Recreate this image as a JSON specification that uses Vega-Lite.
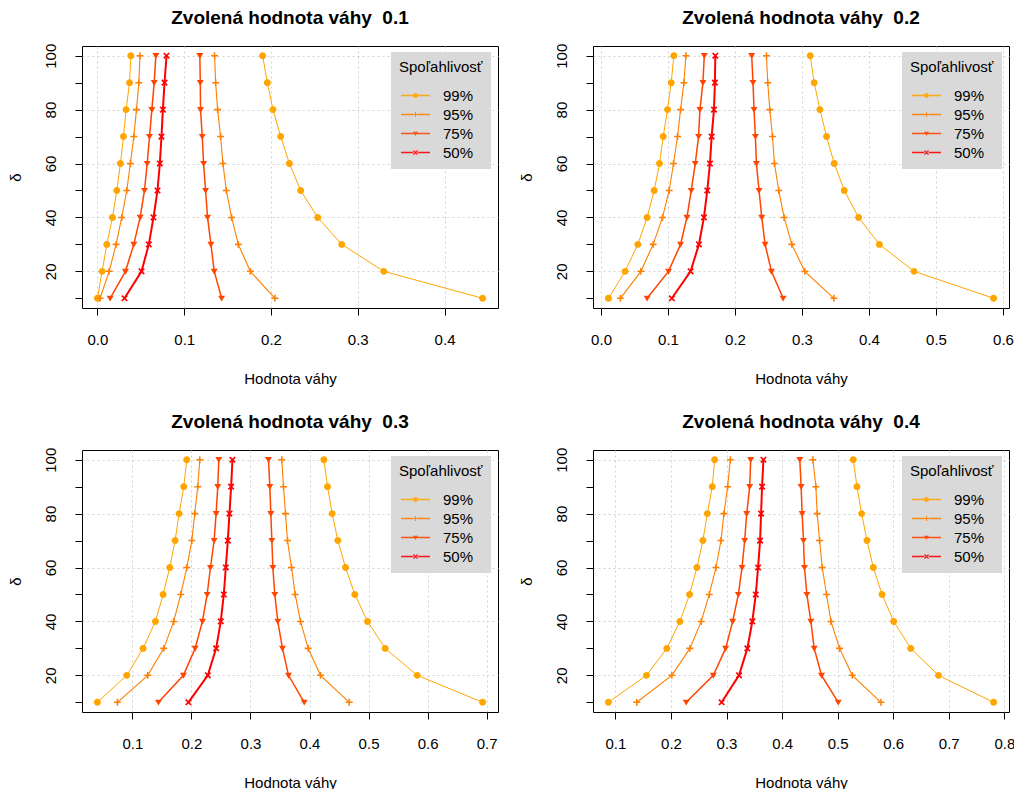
{
"$schema": "https://vega.github.io/schema/vega-lite/v6.json",
"padding": {"left": 7, "top": 8, "right": 5, "bottom": 5},
"background": "white",
"config": {
  "font": "Liberation Sans",
  "view": {"stroke": "black", "strokeWidth": 1},
  "axis": {"domain": false, "tickColor": "black", "tickSize": 7, "tickWidth": 1, "labelFont": "Liberation Sans", "labelFontSize": 15, "labelColor": "black", "titleFont": "Liberation Sans", "titleFontSize": 15, "titleFontWeight": "normal", "titleColor": "black", "gridColor": "#D3D3D3", "gridDash": [2, 3], "gridWidth": 1, "labelFlush": false, "labelOverlap": false, "grid": true},
  "axisX": {"labelPadding": 17, "titlePadding": 24},
  "axisY": {"labelAngle": -90, "labelAlign": "center", "labelBaseline": "bottom", "labelPadding": 17, "titlePadding": 20},
  "title": {"font": "Liberation Sans", "fontSize": 19, "fontWeight": "bold", "color": "black", "offset": 15, "anchor": "middle"}
},
"datasets": {"pts": [
{"p":1,"l":"99%","s":"lo","d":100,"x":0.0385},{"p":1,"l":"99%","s":"lo","d":90,"x":0.037},{"p":1,"l":"99%","s":"lo","d":80,"x":0.033},{"p":1,"l":"99%","s":"lo","d":70,"x":0.030},{"p":1,"l":"99%","s":"lo","d":60,"x":0.0265},{"p":1,"l":"99%","s":"lo","d":50,"x":0.0223},{"p":1,"l":"99%","s":"lo","d":40,"x":0.0173},{"p":1,"l":"99%","s":"lo","d":30,"x":0.0108},{"p":1,"l":"99%","s":"lo","d":20,"x":0.0054},{"p":1,"l":"99%","s":"lo","d":10,"x":0.0},
{"p":1,"l":"95%","s":"lo","d":100,"x":0.049},{"p":1,"l":"95%","s":"lo","d":90,"x":0.0477},{"p":1,"l":"95%","s":"lo","d":80,"x":0.045},{"p":1,"l":"95%","s":"lo","d":70,"x":0.0419},{"p":1,"l":"95%","s":"lo","d":60,"x":0.038},{"p":1,"l":"95%","s":"lo","d":50,"x":0.0338},{"p":1,"l":"95%","s":"lo","d":40,"x":0.028},{"p":1,"l":"95%","s":"lo","d":30,"x":0.0215},{"p":1,"l":"95%","s":"lo","d":20,"x":0.0135},{"p":1,"l":"95%","s":"lo","d":10,"x":0.003},
{"p":1,"l":"75%","s":"lo","d":100,"x":0.0673},{"p":1,"l":"75%","s":"lo","d":90,"x":0.0654},{"p":1,"l":"75%","s":"lo","d":80,"x":0.0627},{"p":1,"l":"75%","s":"lo","d":70,"x":0.06},{"p":1,"l":"75%","s":"lo","d":60,"x":0.0573},{"p":1,"l":"75%","s":"lo","d":50,"x":0.0542},{"p":1,"l":"75%","s":"lo","d":40,"x":0.0492},{"p":1,"l":"75%","s":"lo","d":30,"x":0.0419},{"p":1,"l":"75%","s":"lo","d":20,"x":0.0323},{"p":1,"l":"75%","s":"lo","d":10,"x":0.0146},
{"p":1,"l":"50%","s":"lo","d":100,"x":0.0796},{"p":1,"l":"50%","s":"lo","d":90,"x":0.0773},{"p":1,"l":"50%","s":"lo","d":80,"x":0.0754},{"p":1,"l":"50%","s":"lo","d":70,"x":0.0738},{"p":1,"l":"50%","s":"lo","d":60,"x":0.0719},{"p":1,"l":"50%","s":"lo","d":50,"x":0.0692},{"p":1,"l":"50%","s":"lo","d":40,"x":0.0646},{"p":1,"l":"50%","s":"lo","d":30,"x":0.0592},{"p":1,"l":"50%","s":"lo","d":20,"x":0.0508},{"p":1,"l":"50%","s":"lo","d":10,"x":0.0312},
{"p":1,"l":"75%","s":"hi","d":100,"x":0.118},{"p":1,"l":"75%","s":"hi","d":90,"x":0.1185},{"p":1,"l":"75%","s":"hi","d":80,"x":0.1188},{"p":1,"l":"75%","s":"hi","d":70,"x":0.1208},{"p":1,"l":"75%","s":"hi","d":60,"x":0.1223},{"p":1,"l":"75%","s":"hi","d":50,"x":0.1246},{"p":1,"l":"75%","s":"hi","d":40,"x":0.1269},{"p":1,"l":"75%","s":"hi","d":30,"x":0.1308},{"p":1,"l":"75%","s":"hi","d":20,"x":0.1346},{"p":1,"l":"75%","s":"hi","d":10,"x":0.1431},
{"p":1,"l":"95%","s":"hi","d":100,"x":0.135},{"p":1,"l":"95%","s":"hi","d":90,"x":0.1362},{"p":1,"l":"95%","s":"hi","d":80,"x":0.1385},{"p":1,"l":"95%","s":"hi","d":70,"x":0.1419},{"p":1,"l":"95%","s":"hi","d":60,"x":0.1446},{"p":1,"l":"95%","s":"hi","d":50,"x":0.1485},{"p":1,"l":"95%","s":"hi","d":40,"x":0.1546},{"p":1,"l":"95%","s":"hi","d":30,"x":0.1623},{"p":1,"l":"95%","s":"hi","d":20,"x":0.1762},{"p":1,"l":"95%","s":"hi","d":10,"x":0.2046},
{"p":1,"l":"99%","s":"hi","d":100,"x":0.1904},{"p":1,"l":"99%","s":"hi","d":90,"x":0.1958},{"p":1,"l":"99%","s":"hi","d":80,"x":0.2023},{"p":1,"l":"99%","s":"hi","d":70,"x":0.2112},{"p":1,"l":"99%","s":"hi","d":60,"x":0.2212},{"p":1,"l":"99%","s":"hi","d":50,"x":0.2342},{"p":1,"l":"99%","s":"hi","d":40,"x":0.2538},{"p":1,"l":"99%","s":"hi","d":30,"x":0.2815},{"p":1,"l":"99%","s":"hi","d":20,"x":0.33},{"p":1,"l":"99%","s":"hi","d":10,"x":0.4438},
{"p":2,"l":"99%","s":"lo","d":100,"x":0.1087},{"p":2,"l":"99%","s":"lo","d":90,"x":0.1047},{"p":2,"l":"99%","s":"lo","d":80,"x":0.0993},{"p":2,"l":"99%","s":"lo","d":70,"x":0.0928},{"p":2,"l":"99%","s":"lo","d":60,"x":0.0873},{"p":2,"l":"99%","s":"lo","d":50,"x":0.0793},{"p":2,"l":"99%","s":"lo","d":40,"x":0.0688},{"p":2,"l":"99%","s":"lo","d":30,"x":0.0549},{"p":2,"l":"99%","s":"lo","d":20,"x":0.0359},{"p":2,"l":"99%","s":"lo","d":10,"x":0.011},
{"p":2,"l":"95%","s":"lo","d":100,"x":0.1267},{"p":2,"l":"95%","s":"lo","d":90,"x":0.1237},{"p":2,"l":"95%","s":"lo","d":80,"x":0.1187},{"p":2,"l":"95%","s":"lo","d":70,"x":0.1142},{"p":2,"l":"95%","s":"lo","d":60,"x":0.1082},{"p":2,"l":"95%","s":"lo","d":50,"x":0.1017},{"p":2,"l":"95%","s":"lo","d":40,"x":0.0918},{"p":2,"l":"95%","s":"lo","d":30,"x":0.0778},{"p":2,"l":"95%","s":"lo","d":20,"x":0.0594},{"p":2,"l":"95%","s":"lo","d":10,"x":0.0289},
{"p":2,"l":"75%","s":"lo","d":100,"x":0.1541},{"p":2,"l":"75%","s":"lo","d":90,"x":0.1521},{"p":2,"l":"75%","s":"lo","d":80,"x":0.1476},{"p":2,"l":"75%","s":"lo","d":70,"x":0.1456},{"p":2,"l":"75%","s":"lo","d":60,"x":0.1406},{"p":2,"l":"75%","s":"lo","d":50,"x":0.1347},{"p":2,"l":"75%","s":"lo","d":40,"x":0.1282},{"p":2,"l":"75%","s":"lo","d":30,"x":0.1187},{"p":2,"l":"75%","s":"lo","d":20,"x":0.1007},{"p":2,"l":"75%","s":"lo","d":10,"x":0.0688},
{"p":2,"l":"50%","s":"lo","d":100,"x":0.1706},{"p":2,"l":"50%","s":"lo","d":90,"x":0.17},{"p":2,"l":"50%","s":"lo","d":80,"x":0.1686},{"p":2,"l":"50%","s":"lo","d":70,"x":0.1651},{"p":2,"l":"50%","s":"lo","d":60,"x":0.1626},{"p":2,"l":"50%","s":"lo","d":50,"x":0.1586},{"p":2,"l":"50%","s":"lo","d":40,"x":0.1536},{"p":2,"l":"50%","s":"lo","d":30,"x":0.1461},{"p":2,"l":"50%","s":"lo","d":20,"x":0.1337},{"p":2,"l":"50%","s":"lo","d":10,"x":0.1057},
{"p":2,"l":"75%","s":"hi","d":100,"x":0.2249},{"p":2,"l":"75%","s":"hi","d":90,"x":0.2269},{"p":2,"l":"75%","s":"hi","d":80,"x":0.2284},{"p":2,"l":"75%","s":"hi","d":70,"x":0.2304},{"p":2,"l":"75%","s":"hi","d":60,"x":0.2319},{"p":2,"l":"75%","s":"hi","d":50,"x":0.2359},{"p":2,"l":"75%","s":"hi","d":40,"x":0.2399},{"p":2,"l":"75%","s":"hi","d":30,"x":0.2449},{"p":2,"l":"75%","s":"hi","d":20,"x":0.2544},{"p":2,"l":"75%","s":"hi","d":10,"x":0.2718},
{"p":2,"l":"95%","s":"hi","d":100,"x":0.2469},{"p":2,"l":"95%","s":"hi","d":90,"x":0.2489},{"p":2,"l":"95%","s":"hi","d":80,"x":0.2519},{"p":2,"l":"95%","s":"hi","d":70,"x":0.2559},{"p":2,"l":"95%","s":"hi","d":60,"x":0.2589},{"p":2,"l":"95%","s":"hi","d":50,"x":0.2653},{"p":2,"l":"95%","s":"hi","d":40,"x":0.2733},{"p":2,"l":"95%","s":"hi","d":30,"x":0.2848},{"p":2,"l":"95%","s":"hi","d":20,"x":0.3042},{"p":2,"l":"95%","s":"hi","d":10,"x":0.3476},
{"p":2,"l":"99%","s":"hi","d":100,"x":0.3122},{"p":2,"l":"99%","s":"hi","d":90,"x":0.3182},{"p":2,"l":"99%","s":"hi","d":80,"x":0.3267},{"p":2,"l":"99%","s":"hi","d":70,"x":0.3367},{"p":2,"l":"99%","s":"hi","d":60,"x":0.3481},{"p":2,"l":"99%","s":"hi","d":50,"x":0.3631},{"p":2,"l":"99%","s":"hi","d":40,"x":0.3845},{"p":2,"l":"99%","s":"hi","d":30,"x":0.4155},{"p":2,"l":"99%","s":"hi","d":20,"x":0.4673},{"p":2,"l":"99%","s":"hi","d":10,"x":0.586},
{"p":3,"l":"99%","s":"lo","d":100,"x":0.1921},{"p":3,"l":"99%","s":"lo","d":90,"x":0.187},{"p":3,"l":"99%","s":"lo","d":80,"x":0.1791},{"p":3,"l":"99%","s":"lo","d":70,"x":0.1723},{"p":3,"l":"99%","s":"lo","d":60,"x":0.1633},{"p":3,"l":"99%","s":"lo","d":50,"x":0.152},{"p":3,"l":"99%","s":"lo","d":40,"x":0.139},{"p":3,"l":"99%","s":"lo","d":30,"x":0.1181},{"p":3,"l":"99%","s":"lo","d":20,"x":0.0904},{"p":3,"l":"99%","s":"lo","d":10,"x":0.0407},
{"p":3,"l":"95%","s":"lo","d":100,"x":0.2141},{"p":3,"l":"95%","s":"lo","d":90,"x":0.2107},{"p":3,"l":"95%","s":"lo","d":80,"x":0.2056},{"p":3,"l":"95%","s":"lo","d":70,"x":0.2006},{"p":3,"l":"95%","s":"lo","d":60,"x":0.1921},{"p":3,"l":"95%","s":"lo","d":50,"x":0.1819},{"p":3,"l":"95%","s":"lo","d":40,"x":0.17},{"p":3,"l":"95%","s":"lo","d":30,"x":0.1531},{"p":3,"l":"95%","s":"lo","d":20,"x":0.126},{"p":3,"l":"95%","s":"lo","d":10,"x":0.0746},
{"p":3,"l":"75%","s":"lo","d":100,"x":0.2463},{"p":3,"l":"75%","s":"lo","d":90,"x":0.2446},{"p":3,"l":"75%","s":"lo","d":80,"x":0.2418},{"p":3,"l":"75%","s":"lo","d":70,"x":0.2384},{"p":3,"l":"75%","s":"lo","d":60,"x":0.2322},{"p":3,"l":"75%","s":"lo","d":50,"x":0.2266},{"p":3,"l":"75%","s":"lo","d":40,"x":0.2186},{"p":3,"l":"75%","s":"lo","d":30,"x":0.2062},{"p":3,"l":"75%","s":"lo","d":20,"x":0.1864},{"p":3,"l":"75%","s":"lo","d":10,"x":0.1441},
{"p":3,"l":"50%","s":"lo","d":100,"x":0.2695},{"p":3,"l":"50%","s":"lo","d":90,"x":0.2672},{"p":3,"l":"50%","s":"lo","d":80,"x":0.2644},{"p":3,"l":"50%","s":"lo","d":70,"x":0.2616},{"p":3,"l":"50%","s":"lo","d":60,"x":0.2582},{"p":3,"l":"50%","s":"lo","d":50,"x":0.2548},{"p":3,"l":"50%","s":"lo","d":40,"x":0.2497},{"p":3,"l":"50%","s":"lo","d":30,"x":0.2418},{"p":3,"l":"50%","s":"lo","d":20,"x":0.2277},{"p":3,"l":"50%","s":"lo","d":10,"x":0.1949},
{"p":3,"l":"75%","s":"hi","d":100,"x":0.3305},{"p":3,"l":"75%","s":"hi","d":90,"x":0.3328},{"p":3,"l":"75%","s":"hi","d":80,"x":0.3345},{"p":3,"l":"75%","s":"hi","d":70,"x":0.3362},{"p":3,"l":"75%","s":"hi","d":60,"x":0.3379},{"p":3,"l":"75%","s":"hi","d":50,"x":0.3412},{"p":3,"l":"75%","s":"hi","d":40,"x":0.3463},{"p":3,"l":"75%","s":"hi","d":30,"x":0.3542},{"p":3,"l":"75%","s":"hi","d":20,"x":0.3644},{"p":3,"l":"75%","s":"hi","d":10,"x":0.391},
{"p":3,"l":"95%","s":"hi","d":100,"x":0.3531},{"p":3,"l":"95%","s":"hi","d":90,"x":0.3559},{"p":3,"l":"95%","s":"hi","d":80,"x":0.3593},{"p":3,"l":"95%","s":"hi","d":70,"x":0.3627},{"p":3,"l":"95%","s":"hi","d":60,"x":0.3695},{"p":3,"l":"95%","s":"hi","d":50,"x":0.3757},{"p":3,"l":"95%","s":"hi","d":40,"x":0.3847},{"p":3,"l":"95%","s":"hi","d":30,"x":0.3977},{"p":3,"l":"95%","s":"hi","d":20,"x":0.4186},{"p":3,"l":"95%","s":"hi","d":10,"x":0.4672},
{"p":3,"l":"99%","s":"hi","d":100,"x":0.4243},{"p":3,"l":"99%","s":"hi","d":90,"x":0.4305},{"p":3,"l":"99%","s":"hi","d":80,"x":0.4384},{"p":3,"l":"99%","s":"hi","d":70,"x":0.448},{"p":3,"l":"99%","s":"hi","d":60,"x":0.461},{"p":3,"l":"99%","s":"hi","d":50,"x":0.4768},{"p":3,"l":"99%","s":"hi","d":40,"x":0.4983},{"p":3,"l":"99%","s":"hi","d":30,"x":0.5282},{"p":3,"l":"99%","s":"hi","d":20,"x":0.5825},{"p":3,"l":"99%","s":"hi","d":10,"x":0.6932},
{"p":4,"l":"99%","s":"lo","d":100,"x":0.2786},{"p":4,"l":"99%","s":"lo","d":90,"x":0.2744},{"p":4,"l":"99%","s":"lo","d":80,"x":0.2654},{"p":4,"l":"99%","s":"lo","d":70,"x":0.2575},{"p":4,"l":"99%","s":"lo","d":60,"x":0.2467},{"p":4,"l":"99%","s":"lo","d":50,"x":0.2335},{"p":4,"l":"99%","s":"lo","d":40,"x":0.2161},{"p":4,"l":"99%","s":"lo","d":30,"x":0.1926},{"p":4,"l":"99%","s":"lo","d":20,"x":0.1559},{"p":4,"l":"99%","s":"lo","d":10,"x":0.0874},
{"p":4,"l":"95%","s":"lo","d":100,"x":0.3069},{"p":4,"l":"95%","s":"lo","d":90,"x":0.302},{"p":4,"l":"95%","s":"lo","d":80,"x":0.2954},{"p":4,"l":"95%","s":"lo","d":70,"x":0.29},{"p":4,"l":"95%","s":"lo","d":60,"x":0.281},{"p":4,"l":"95%","s":"lo","d":50,"x":0.269},{"p":4,"l":"95%","s":"lo","d":40,"x":0.2545},{"p":4,"l":"95%","s":"lo","d":30,"x":0.2341},{"p":4,"l":"95%","s":"lo","d":20,"x":0.2016},{"p":4,"l":"95%","s":"lo","d":10,"x":0.1385},
{"p":4,"l":"75%","s":"lo","d":100,"x":0.3435},{"p":4,"l":"75%","s":"lo","d":90,"x":0.3417},{"p":4,"l":"75%","s":"lo","d":80,"x":0.3363},{"p":4,"l":"75%","s":"lo","d":70,"x":0.3327},{"p":4,"l":"75%","s":"lo","d":60,"x":0.3279},{"p":4,"l":"75%","s":"lo","d":50,"x":0.3213},{"p":4,"l":"75%","s":"lo","d":40,"x":0.3111},{"p":4,"l":"75%","s":"lo","d":30,"x":0.2984},{"p":4,"l":"75%","s":"lo","d":20,"x":0.2762},{"p":4,"l":"75%","s":"lo","d":10,"x":0.2275},
{"p":4,"l":"50%","s":"lo","d":100,"x":0.3664},{"p":4,"l":"50%","s":"lo","d":90,"x":0.364},{"p":4,"l":"50%","s":"lo","d":80,"x":0.3622},{"p":4,"l":"50%","s":"lo","d":70,"x":0.3604},{"p":4,"l":"50%","s":"lo","d":60,"x":0.3568},{"p":4,"l":"50%","s":"lo","d":50,"x":0.3526},{"p":4,"l":"50%","s":"lo","d":40,"x":0.3465},{"p":4,"l":"50%","s":"lo","d":30,"x":0.3375},{"p":4,"l":"50%","s":"lo","d":20,"x":0.3225},{"p":4,"l":"50%","s":"lo","d":10,"x":0.2912},
{"p":4,"l":"75%","s":"hi","d":100,"x":0.4319},{"p":4,"l":"75%","s":"hi","d":90,"x":0.4343},{"p":4,"l":"75%","s":"hi","d":80,"x":0.4361},{"p":4,"l":"75%","s":"hi","d":70,"x":0.4385},{"p":4,"l":"75%","s":"hi","d":60,"x":0.4403},{"p":4,"l":"75%","s":"hi","d":50,"x":0.4446},{"p":4,"l":"75%","s":"hi","d":40,"x":0.4518},{"p":4,"l":"75%","s":"hi","d":30,"x":0.4578},{"p":4,"l":"75%","s":"hi","d":20,"x":0.471},{"p":4,"l":"75%","s":"hi","d":10,"x":0.5011},
{"p":4,"l":"95%","s":"hi","d":100,"x":0.4554},{"p":4,"l":"95%","s":"hi","d":90,"x":0.4608},{"p":4,"l":"95%","s":"hi","d":80,"x":0.4632},{"p":4,"l":"95%","s":"hi","d":70,"x":0.4675},{"p":4,"l":"95%","s":"hi","d":60,"x":0.4723},{"p":4,"l":"95%","s":"hi","d":50,"x":0.48},{"p":4,"l":"95%","s":"hi","d":40,"x":0.4879},{"p":4,"l":"95%","s":"hi","d":30,"x":0.5035},{"p":4,"l":"95%","s":"hi","d":20,"x":0.5263},{"p":4,"l":"95%","s":"hi","d":10,"x":0.578},
{"p":4,"l":"99%","s":"hi","d":100,"x":0.5281},{"p":4,"l":"99%","s":"hi","d":90,"x":0.5348},{"p":4,"l":"99%","s":"hi","d":80,"x":0.5432},{"p":4,"l":"99%","s":"hi","d":70,"x":0.5528},{"p":4,"l":"99%","s":"hi","d":60,"x":0.5642},{"p":4,"l":"99%","s":"hi","d":50,"x":0.5799},{"p":4,"l":"99%","s":"hi","d":40,"x":0.6009},{"p":4,"l":"99%","s":"hi","d":30,"x":0.6316},{"p":4,"l":"99%","s":"hi","d":20,"x":0.6815},{"p":4,"l":"99%","s":"hi","d":10,"x":0.7807}
]},
"data": {"name": "pts"},
"columns": 2,
"spacing": {"row": 142, "column": 95},
"bounds": "flush",
"resolve": {"scale": {"x": "independent", "y": "independent", "color": "independent", "fill": "independent", "shape": "independent", "strokeWidth": "independent"}, "legend": {"color": "independent", "fill": "independent", "shape": "independent"}},
"concat": [
{
  "title": "Zvolená hodnota váhy\u00a0 0.1",
  "width": 416, "height": 262,
  "transform": [{"filter": "datum.p == 1"}],
  "encoding": {
    "x": {"field": "x", "type": "quantitative", "title": "Hodnota váhy", "scale": {"domain": [-0.0178, 0.4616], "nice": false, "zero": false}, "axis": {"values": [0, 0.1, 0.2, 0.3, 0.4], "format": ".1f"}},
    "y": {"field": "d", "type": "quantitative", "title": "δ", "scale": {"domain": [6.4, 103.6], "nice": false, "zero": false}, "axis": {"values": [10, 20, 30, 40, 50, 60, 70, 80, 90, 100], "labelExpr": "datum.value % 20 == 0 ? datum.label : ''", "gridOpacity": {"condition": {"test": "datum.value % 20 == 0", "value": 1}, "value": 0}}}
  },
  "layer": [
    {"mark": {"type": "line"}, "encoding": {"color": {"field": "l", "type": "nominal", "scale": {"domain": ["50%", "75%", "95%", "99%"], "range": ["#FF0000", "#FF4500", "#FF7F00", "#FFA500"]}, "legend": null}, "detail": {"field": "s"}, "order": {"field": "d", "type": "quantitative"}, "strokeWidth": {"field": "l", "type": "nominal", "scale": {"type": "ordinal", "domain": ["50%", "75%", "95%", "99%"], "range": [2, 1.5, 1.1, 1]}, "legend": null}}},
    {"transform": [{"filter": "datum.l == '99%'"}], "mark": {"type": "point", "filled": true, "opacity": 1, "size": 48, "strokeWidth": 0, "shape": "M-1,0A1,1,0,1,1,1,0A1,1,0,1,1,-1,0Z"}, "encoding": {"color": {"field": "l", "type": "nominal", "legend": null}}},
    {"transform": [{"filter": "datum.l == '95%'"}], "mark": {"type": "point", "filled": true, "opacity": 1, "size": 48, "strokeWidth": 0, "shape": "M-1,-0.22H-0.22V-1H0.22V-0.22H1V0.22H0.22V1H-0.22V0.22H-1Z"}, "encoding": {"color": {"field": "l", "type": "nominal", "legend": null}}},
    {"transform": [{"filter": "datum.l == '75%'"}], "mark": {"type": "point", "filled": true, "opacity": 1, "size": 48, "strokeWidth": 0, "shape": "M-1,-0.75H1L0,0.95Z"}, "encoding": {"color": {"field": "l", "type": "nominal", "legend": null}}},
    {"transform": [{"filter": "datum.l == '50%'"}], "mark": {"type": "point", "filled": true, "opacity": 1, "size": 44, "strokeWidth": 0, "shape": "M-1,-0.65L-0.65,-1L0,-0.35L0.65,-1L1,-0.65L0.35,0L1,0.65L0.65,1L0,0.35L-0.65,1L-1,0.65L-0.35,0Z"}, "encoding": {"color": {"field": "l", "type": "nominal", "legend": null}}},
    {"transform": [{"filter": "datum.p == 0"}], "mark": {"type": "point", "filled": true, "opacity": 1, "strokeWidth": 0}, "encoding": {"fill": {"field": "l", "type": "nominal", "scale": {"domain": ["99%", "95%", "75%", "50%"], "range": ["#FFA500", "#FF7F00", "#FF4500", "#FF0000"]}, "legend": {"title": "Spoľahlivosť", "orient": "none", "legendX": 309, "legendY": 6, "fillColor": "#D9D9D9", "padding": 8, "cornerRadius": 0, "titleFontSize": 15, "titleFontWeight": "normal", "titleColor": "black", "titlePadding": 13, "labelFontSize": 15, "labelColor": "black", "labelOffset": 20, "symbolSize": 25, "symbolOffset": 9, "rowPadding": 3, "symbolStrokeWidth": 0, "symbolOpacity": 0.9}}, "shape": {"field": "l", "type": "nominal", "scale": {"domain": ["99%", "95%", "75%", "50%"], "range": ["M-5.8,-0.28H-0.9V0.28H-5.8ZM0.9,-0.28H5.8V0.28H0.9ZM-1,0A1,1,0,1,1,1,0A1,1,0,1,1,-1,0Z", "M-5.8,-0.28H-1V0.28H-5.8ZM1,-0.28H5.8V0.28H1ZM-1,-0.22H-0.22V-1H0.22V-0.22H1V0.22H0.22V1H-0.22V0.22H-1Z", "M-5.8,-0.28H-0.6V0.28H-5.8ZM0.6,-0.28H5.8V0.28H0.6ZM-1,-0.75H1L0,0.95Z", "M-5.8,-0.28H-0.9V0.28H-5.8ZM0.9,-0.28H5.8V0.28H0.9ZM-1,-0.65L-0.65,-1L0,-0.35L0.65,-1L1,-0.65L0.35,0L1,0.65L0.65,1L0,0.35L-0.65,1L-1,0.65L-0.35,0Z"]}, "legend": {"title": "Spoľahlivosť", "orient": "none", "legendX": 309, "legendY": 6, "fillColor": "#D9D9D9", "padding": 8, "cornerRadius": 0, "titleFontSize": 15, "titleFontWeight": "normal", "titleColor": "black", "titlePadding": 13, "labelFontSize": 15, "labelColor": "black", "labelOffset": 20, "symbolSize": 25, "symbolOffset": 9, "rowPadding": 3, "symbolStrokeWidth": 0, "symbolOpacity": 0.9}}}}
  ]
},
{
  "title": "Zvolená hodnota váhy\u00a0 0.2",
  "width": 416, "height": 262,
  "transform": [{"filter": "datum.p == 2"}],
  "encoding": {
    "x": {"field": "x", "type": "quantitative", "title": "Hodnota váhy", "scale": {"domain": [-0.012, 0.609], "nice": false, "zero": false}, "axis": {"values": [0, 0.1, 0.2, 0.3, 0.4, 0.5, 0.6], "format": ".1f"}},
    "y": {"field": "d", "type": "quantitative", "title": "δ", "scale": {"domain": [6.4, 103.6], "nice": false, "zero": false}, "axis": {"values": [10, 20, 30, 40, 50, 60, 70, 80, 90, 100], "labelExpr": "datum.value % 20 == 0 ? datum.label : ''", "gridOpacity": {"condition": {"test": "datum.value % 20 == 0", "value": 1}, "value": 0}}}
  },
  "layer": [
    {"mark": {"type": "line"}, "encoding": {"color": {"field": "l", "type": "nominal", "scale": {"domain": ["50%", "75%", "95%", "99%"], "range": ["#FF0000", "#FF4500", "#FF7F00", "#FFA500"]}, "legend": null}, "detail": {"field": "s"}, "order": {"field": "d", "type": "quantitative"}, "strokeWidth": {"field": "l", "type": "nominal", "scale": {"type": "ordinal", "domain": ["50%", "75%", "95%", "99%"], "range": [2, 1.5, 1.1, 1]}, "legend": null}}},
    {"transform": [{"filter": "datum.l == '99%'"}], "mark": {"type": "point", "filled": true, "opacity": 1, "size": 48, "strokeWidth": 0, "shape": "M-1,0A1,1,0,1,1,1,0A1,1,0,1,1,-1,0Z"}, "encoding": {"color": {"field": "l", "type": "nominal", "legend": null}}},
    {"transform": [{"filter": "datum.l == '95%'"}], "mark": {"type": "point", "filled": true, "opacity": 1, "size": 48, "strokeWidth": 0, "shape": "M-1,-0.22H-0.22V-1H0.22V-0.22H1V0.22H0.22V1H-0.22V0.22H-1Z"}, "encoding": {"color": {"field": "l", "type": "nominal", "legend": null}}},
    {"transform": [{"filter": "datum.l == '75%'"}], "mark": {"type": "point", "filled": true, "opacity": 1, "size": 48, "strokeWidth": 0, "shape": "M-1,-0.75H1L0,0.95Z"}, "encoding": {"color": {"field": "l", "type": "nominal", "legend": null}}},
    {"transform": [{"filter": "datum.l == '50%'"}], "mark": {"type": "point", "filled": true, "opacity": 1, "size": 44, "strokeWidth": 0, "shape": "M-1,-0.65L-0.65,-1L0,-0.35L0.65,-1L1,-0.65L0.35,0L1,0.65L0.65,1L0,0.35L-0.65,1L-1,0.65L-0.35,0Z"}, "encoding": {"color": {"field": "l", "type": "nominal", "legend": null}}},
    {"transform": [{"filter": "datum.p == 0"}], "mark": {"type": "point", "filled": true, "opacity": 1, "strokeWidth": 0}, "encoding": {"fill": {"field": "l", "type": "nominal", "scale": {"domain": ["99%", "95%", "75%", "50%"], "range": ["#FFA500", "#FF7F00", "#FF4500", "#FF0000"]}, "legend": {"title": "Spoľahlivosť", "orient": "none", "legendX": 309, "legendY": 6, "fillColor": "#D9D9D9", "padding": 8, "cornerRadius": 0, "titleFontSize": 15, "titleFontWeight": "normal", "titleColor": "black", "titlePadding": 13, "labelFontSize": 15, "labelColor": "black", "labelOffset": 20, "symbolSize": 25, "symbolOffset": 9, "rowPadding": 3, "symbolStrokeWidth": 0, "symbolOpacity": 0.9}}, "shape": {"field": "l", "type": "nominal", "scale": {"domain": ["99%", "95%", "75%", "50%"], "range": ["M-5.8,-0.28H-0.9V0.28H-5.8ZM0.9,-0.28H5.8V0.28H0.9ZM-1,0A1,1,0,1,1,1,0A1,1,0,1,1,-1,0Z", "M-5.8,-0.28H-1V0.28H-5.8ZM1,-0.28H5.8V0.28H1ZM-1,-0.22H-0.22V-1H0.22V-0.22H1V0.22H0.22V1H-0.22V0.22H-1Z", "M-5.8,-0.28H-0.6V0.28H-5.8ZM0.6,-0.28H5.8V0.28H0.6ZM-1,-0.75H1L0,0.95Z", "M-5.8,-0.28H-0.9V0.28H-5.8ZM0.9,-0.28H5.8V0.28H0.9ZM-1,-0.65L-0.65,-1L0,-0.35L0.65,-1L1,-0.65L0.35,0L1,0.65L0.65,1L0,0.35L-0.65,1L-1,0.65L-0.35,0Z"]}, "legend": {"title": "Spoľahlivosť", "orient": "none", "legendX": 309, "legendY": 6, "fillColor": "#D9D9D9", "padding": 8, "cornerRadius": 0, "titleFontSize": 15, "titleFontWeight": "normal", "titleColor": "black", "titlePadding": 13, "labelFontSize": 15, "labelColor": "black", "labelOffset": 20, "symbolSize": 25, "symbolOffset": 9, "rowPadding": 3, "symbolStrokeWidth": 0, "symbolOpacity": 0.9}}}}
  ]
},
{
  "title": "Zvolená hodnota váhy\u00a0 0.3",
  "width": 416, "height": 262,
  "transform": [{"filter": "datum.p == 3"}],
  "encoding": {
    "x": {"field": "x", "type": "quantitative", "title": "Hodnota váhy", "scale": {"domain": [0.0146, 0.7193], "nice": false, "zero": false}, "axis": {"values": [0.1, 0.2, 0.3, 0.4, 0.5, 0.6, 0.7], "format": ".1f"}},
    "y": {"field": "d", "type": "quantitative", "title": "δ", "scale": {"domain": [6.4, 103.6], "nice": false, "zero": false}, "axis": {"values": [10, 20, 30, 40, 50, 60, 70, 80, 90, 100], "labelExpr": "datum.value % 20 == 0 ? datum.label : ''", "gridOpacity": {"condition": {"test": "datum.value % 20 == 0", "value": 1}, "value": 0}}}
  },
  "layer": [
    {"mark": {"type": "line"}, "encoding": {"color": {"field": "l", "type": "nominal", "scale": {"domain": ["50%", "75%", "95%", "99%"], "range": ["#FF0000", "#FF4500", "#FF7F00", "#FFA500"]}, "legend": null}, "detail": {"field": "s"}, "order": {"field": "d", "type": "quantitative"}, "strokeWidth": {"field": "l", "type": "nominal", "scale": {"type": "ordinal", "domain": ["50%", "75%", "95%", "99%"], "range": [2, 1.5, 1.1, 1]}, "legend": null}}},
    {"transform": [{"filter": "datum.l == '99%'"}], "mark": {"type": "point", "filled": true, "opacity": 1, "size": 48, "strokeWidth": 0, "shape": "M-1,0A1,1,0,1,1,1,0A1,1,0,1,1,-1,0Z"}, "encoding": {"color": {"field": "l", "type": "nominal", "legend": null}}},
    {"transform": [{"filter": "datum.l == '95%'"}], "mark": {"type": "point", "filled": true, "opacity": 1, "size": 48, "strokeWidth": 0, "shape": "M-1,-0.22H-0.22V-1H0.22V-0.22H1V0.22H0.22V1H-0.22V0.22H-1Z"}, "encoding": {"color": {"field": "l", "type": "nominal", "legend": null}}},
    {"transform": [{"filter": "datum.l == '75%'"}], "mark": {"type": "point", "filled": true, "opacity": 1, "size": 48, "strokeWidth": 0, "shape": "M-1,-0.75H1L0,0.95Z"}, "encoding": {"color": {"field": "l", "type": "nominal", "legend": null}}},
    {"transform": [{"filter": "datum.l == '50%'"}], "mark": {"type": "point", "filled": true, "opacity": 1, "size": 44, "strokeWidth": 0, "shape": "M-1,-0.65L-0.65,-1L0,-0.35L0.65,-1L1,-0.65L0.35,0L1,0.65L0.65,1L0,0.35L-0.65,1L-1,0.65L-0.35,0Z"}, "encoding": {"color": {"field": "l", "type": "nominal", "legend": null}}},
    {"transform": [{"filter": "datum.p == 0"}], "mark": {"type": "point", "filled": true, "opacity": 1, "strokeWidth": 0}, "encoding": {"fill": {"field": "l", "type": "nominal", "scale": {"domain": ["99%", "95%", "75%", "50%"], "range": ["#FFA500", "#FF7F00", "#FF4500", "#FF0000"]}, "legend": {"title": "Spoľahlivosť", "orient": "none", "legendX": 309, "legendY": 6, "fillColor": "#D9D9D9", "padding": 8, "cornerRadius": 0, "titleFontSize": 15, "titleFontWeight": "normal", "titleColor": "black", "titlePadding": 13, "labelFontSize": 15, "labelColor": "black", "labelOffset": 20, "symbolSize": 25, "symbolOffset": 9, "rowPadding": 3, "symbolStrokeWidth": 0, "symbolOpacity": 0.9}}, "shape": {"field": "l", "type": "nominal", "scale": {"domain": ["99%", "95%", "75%", "50%"], "range": ["M-5.8,-0.28H-0.9V0.28H-5.8ZM0.9,-0.28H5.8V0.28H0.9ZM-1,0A1,1,0,1,1,1,0A1,1,0,1,1,-1,0Z", "M-5.8,-0.28H-1V0.28H-5.8ZM1,-0.28H5.8V0.28H1ZM-1,-0.22H-0.22V-1H0.22V-0.22H1V0.22H0.22V1H-0.22V0.22H-1Z", "M-5.8,-0.28H-0.6V0.28H-5.8ZM0.6,-0.28H5.8V0.28H0.6ZM-1,-0.75H1L0,0.95Z", "M-5.8,-0.28H-0.9V0.28H-5.8ZM0.9,-0.28H5.8V0.28H0.9ZM-1,-0.65L-0.65,-1L0,-0.35L0.65,-1L1,-0.65L0.35,0L1,0.65L0.65,1L0,0.35L-0.65,1L-1,0.65L-0.35,0Z"]}, "legend": {"title": "Spoľahlivosť", "orient": "none", "legendX": 309, "legendY": 6, "fillColor": "#D9D9D9", "padding": 8, "cornerRadius": 0, "titleFontSize": 15, "titleFontWeight": "normal", "titleColor": "black", "titlePadding": 13, "labelFontSize": 15, "labelColor": "black", "labelOffset": 20, "symbolSize": 25, "symbolOffset": 9, "rowPadding": 3, "symbolStrokeWidth": 0, "symbolOpacity": 0.9}}}}
  ]
},
{
  "title": "Zvolená hodnota váhy\u00a0 0.4",
  "width": 416, "height": 262,
  "transform": [{"filter": "datum.p == 4"}],
  "encoding": {
    "x": {"field": "x", "type": "quantitative", "title": "Hodnota váhy", "scale": {"domain": [0.0597, 0.8084], "nice": false, "zero": false}, "axis": {"values": [0.1, 0.2, 0.3, 0.4, 0.5, 0.6, 0.7, 0.8], "format": ".1f"}},
    "y": {"field": "d", "type": "quantitative", "title": "δ", "scale": {"domain": [6.4, 103.6], "nice": false, "zero": false}, "axis": {"values": [10, 20, 30, 40, 50, 60, 70, 80, 90, 100], "labelExpr": "datum.value % 20 == 0 ? datum.label : ''", "gridOpacity": {"condition": {"test": "datum.value % 20 == 0", "value": 1}, "value": 0}}}
  },
  "layer": [
    {"mark": {"type": "line"}, "encoding": {"color": {"field": "l", "type": "nominal", "scale": {"domain": ["50%", "75%", "95%", "99%"], "range": ["#FF0000", "#FF4500", "#FF7F00", "#FFA500"]}, "legend": null}, "detail": {"field": "s"}, "order": {"field": "d", "type": "quantitative"}, "strokeWidth": {"field": "l", "type": "nominal", "scale": {"type": "ordinal", "domain": ["50%", "75%", "95%", "99%"], "range": [2, 1.5, 1.1, 1]}, "legend": null}}},
    {"transform": [{"filter": "datum.l == '99%'"}], "mark": {"type": "point", "filled": true, "opacity": 1, "size": 48, "strokeWidth": 0, "shape": "M-1,0A1,1,0,1,1,1,0A1,1,0,1,1,-1,0Z"}, "encoding": {"color": {"field": "l", "type": "nominal", "legend": null}}},
    {"transform": [{"filter": "datum.l == '95%'"}], "mark": {"type": "point", "filled": true, "opacity": 1, "size": 48, "strokeWidth": 0, "shape": "M-1,-0.22H-0.22V-1H0.22V-0.22H1V0.22H0.22V1H-0.22V0.22H-1Z"}, "encoding": {"color": {"field": "l", "type": "nominal", "legend": null}}},
    {"transform": [{"filter": "datum.l == '75%'"}], "mark": {"type": "point", "filled": true, "opacity": 1, "size": 48, "strokeWidth": 0, "shape": "M-1,-0.75H1L0,0.95Z"}, "encoding": {"color": {"field": "l", "type": "nominal", "legend": null}}},
    {"transform": [{"filter": "datum.l == '50%'"}], "mark": {"type": "point", "filled": true, "opacity": 1, "size": 44, "strokeWidth": 0, "shape": "M-1,-0.65L-0.65,-1L0,-0.35L0.65,-1L1,-0.65L0.35,0L1,0.65L0.65,1L0,0.35L-0.65,1L-1,0.65L-0.35,0Z"}, "encoding": {"color": {"field": "l", "type": "nominal", "legend": null}}},
    {"transform": [{"filter": "datum.p == 0"}], "mark": {"type": "point", "filled": true, "opacity": 1, "strokeWidth": 0}, "encoding": {"fill": {"field": "l", "type": "nominal", "scale": {"domain": ["99%", "95%", "75%", "50%"], "range": ["#FFA500", "#FF7F00", "#FF4500", "#FF0000"]}, "legend": {"title": "Spoľahlivosť", "orient": "none", "legendX": 309, "legendY": 6, "fillColor": "#D9D9D9", "padding": 8, "cornerRadius": 0, "titleFontSize": 15, "titleFontWeight": "normal", "titleColor": "black", "titlePadding": 13, "labelFontSize": 15, "labelColor": "black", "labelOffset": 20, "symbolSize": 25, "symbolOffset": 9, "rowPadding": 3, "symbolStrokeWidth": 0, "symbolOpacity": 0.9}}, "shape": {"field": "l", "type": "nominal", "scale": {"domain": ["99%", "95%", "75%", "50%"], "range": ["M-5.8,-0.28H-0.9V0.28H-5.8ZM0.9,-0.28H5.8V0.28H0.9ZM-1,0A1,1,0,1,1,1,0A1,1,0,1,1,-1,0Z", "M-5.8,-0.28H-1V0.28H-5.8ZM1,-0.28H5.8V0.28H1ZM-1,-0.22H-0.22V-1H0.22V-0.22H1V0.22H0.22V1H-0.22V0.22H-1Z", "M-5.8,-0.28H-0.6V0.28H-5.8ZM0.6,-0.28H5.8V0.28H0.6ZM-1,-0.75H1L0,0.95Z", "M-5.8,-0.28H-0.9V0.28H-5.8ZM0.9,-0.28H5.8V0.28H0.9ZM-1,-0.65L-0.65,-1L0,-0.35L0.65,-1L1,-0.65L0.35,0L1,0.65L0.65,1L0,0.35L-0.65,1L-1,0.65L-0.35,0Z"]}, "legend": {"title": "Spoľahlivosť", "orient": "none", "legendX": 309, "legendY": 6, "fillColor": "#D9D9D9", "padding": 8, "cornerRadius": 0, "titleFontSize": 15, "titleFontWeight": "normal", "titleColor": "black", "titlePadding": 13, "labelFontSize": 15, "labelColor": "black", "labelOffset": 20, "symbolSize": 25, "symbolOffset": 9, "rowPadding": 3, "symbolStrokeWidth": 0, "symbolOpacity": 0.9}}}}
  ]
}
]
}
